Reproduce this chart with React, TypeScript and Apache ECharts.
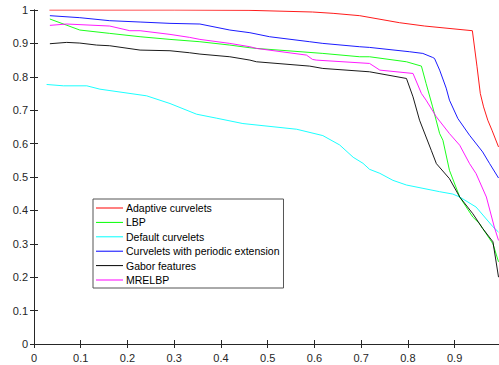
import React, { useEffect, useRef } from "react";
import * as echarts from "echarts";

const seriesNames = [
  "Adaptive curvelets",
  "LBP",
  "Default curvelets",
  "Curvelets with periodic extension",
  "Gabor features",
  "MRELBP",
];
const seriesColors = ["#ff0000", "#00ff00", "#00ffff", "#0000ff", "#000000", "#ff00ff"];

const xTicks = [0, 0.1, 0.2, 0.3, 0.4, 0.5, 0.6, 0.7, 0.8, 0.9];
const yTicks = [0, 0.1, 0.2, 0.3, 0.4, 0.5, 0.6, 0.7, 0.8, 0.9, 1];

const adaptiveX = [0.033, 0.3, 0.46, 0.596, 0.64, 0.697, 0.782, 0.836, 0.938, 0.948, 0.955, 0.962, 0.971, 0.98, 0.994];
const adaptiveY = [1.0, 1.0, 0.999, 0.994, 0.99, 0.983, 0.962, 0.952, 0.938, 0.83, 0.75, 0.71, 0.67, 0.64, 0.59];

const lbpX = [0.034, 0.098, 0.162, 0.227, 0.291, 0.355, 0.419, 0.462, 0.476, 0.618, 0.697, 0.718, 0.797, 0.829, 0.839, 0.853, 0.868, 0.875, 0.889, 0.911, 0.939, 0.953, 0.96, 0.982, 0.994];
const lbpY = [0.973, 0.94, 0.93, 0.92, 0.912, 0.905, 0.895, 0.887, 0.885, 0.87, 0.86, 0.86, 0.845, 0.832, 0.78, 0.71, 0.63, 0.61, 0.52, 0.44, 0.38, 0.361, 0.346, 0.3, 0.246];

const defaultX = [0.027, 0.063, 0.113, 0.141, 0.241, 0.291, 0.348, 0.391, 0.447, 0.562, 0.618, 0.654, 0.683, 0.704, 0.718, 0.74, 0.768, 0.797, 0.868, 0.896, 0.911, 0.946, 0.982, 0.994];
const defaultY = [0.777, 0.773, 0.773, 0.763, 0.743, 0.72, 0.688, 0.676, 0.66, 0.643, 0.624, 0.596, 0.559, 0.541, 0.523, 0.511, 0.49, 0.476, 0.456, 0.449, 0.44, 0.41, 0.351, 0.335];

const periodicX = [0.034, 0.098, 0.162, 0.227, 0.291, 0.355, 0.419, 0.462, 0.504, 0.59, 0.618, 0.697, 0.718, 0.804, 0.832, 0.853, 0.857, 0.868, 0.882, 0.889, 0.907, 0.932, 0.96, 0.975, 0.994];
const periodicY = [0.983, 0.977, 0.968, 0.964, 0.96, 0.958, 0.94, 0.932, 0.92, 0.905, 0.9, 0.89, 0.888, 0.875, 0.87, 0.858, 0.855, 0.82, 0.766, 0.73, 0.675, 0.625, 0.575, 0.54, 0.497];

const gaborX = [0.034, 0.07, 0.098, 0.134, 0.162, 0.227, 0.291, 0.333, 0.355, 0.419, 0.462, 0.476, 0.59, 0.618, 0.718, 0.797, 0.811, 0.825, 0.85, 0.861, 0.889, 0.911, 0.939, 0.96, 0.982, 0.994];
const gaborY = [0.899, 0.903, 0.901, 0.895, 0.893, 0.88, 0.878, 0.872, 0.868, 0.86, 0.85, 0.845, 0.832, 0.825, 0.815, 0.795, 0.74, 0.67, 0.58, 0.54, 0.495, 0.44, 0.39, 0.346, 0.306, 0.2];

const mrelbpX = [0.034, 0.07, 0.162, 0.205, 0.227, 0.291, 0.333, 0.355, 0.419, 0.462, 0.476, 0.583, 0.596, 0.604, 0.718, 0.74, 0.811, 0.829, 0.839, 0.861, 0.889, 0.911, 0.932, 0.946, 0.968, 0.985, 0.994];
const mrelbpY = [0.954, 0.958, 0.952, 0.938, 0.938, 0.927, 0.918, 0.912, 0.9, 0.89, 0.885, 0.865, 0.852, 0.85, 0.84, 0.82, 0.81, 0.75, 0.73, 0.68, 0.63, 0.595, 0.54, 0.51, 0.44, 0.35, 0.31];

const allX = [adaptiveX, lbpX, defaultX, periodicX, gaborX, mrelbpX];
const allY = [adaptiveY, lbpY, defaultY, periodicY, gaborY, mrelbpY];

const FONT = "'Liberation Sans', Arial, Helvetica, sans-serif";
const AXIS_COLOR = "#262626";

export default function App() {
  const ref = useRef<HTMLDivElement>(null);
  useEffect(() => {
    if (!ref.current) return;
    const chart = echarts.init(ref.current, undefined, { renderer: "svg" });
    const tickStyle = { show: true, inside: true, length: 4, lineStyle: { color: AXIS_COLOR, width: 1 } };
    const lineStyle = { show: true, lineStyle: { color: AXIS_COLOR, width: 1 } };
    chart.setOption({
      animation: false,
      backgroundColor: "#ffffff",
      textStyle: { fontFamily: FONT },
      grid: { left: 34, right: 0, top: 10, bottom: 21, containLabel: false },
      legend: {
        show: true,
        orient: "vertical",
        left: 93,
        top: 199,
        data: seriesNames,
        icon: "rect",
        itemWidth: 27,
        itemHeight: 1,
        itemGap: 2.4,
        padding: [3, 4, 2, 3],
        borderColor: "#555555",
        borderWidth: 1,
        backgroundColor: "#ffffff",
        textStyle: { fontFamily: FONT, fontSize: 10.5, color: "#000000", lineHeight: 12, padding: [0, 0, 0, -2] },
        selectedMode: false,
      },
      xAxis: [
        {
          type: "value",
          min: 0,
          max: 0.995,
          interval: 0.1,
          position: "bottom",
          axisLine: lineStyle,
          axisTick: { ...tickStyle, customValues: xTicks },
          axisLabel: { customValues: xTicks, color: AXIS_COLOR, fontSize: 11, fontFamily: FONT, margin: 8 },
          splitLine: { show: false },
        },
        {
          type: "value",
          min: 0,
          max: 0.995,
          interval: 0.1,
          position: "top",
          axisLine: lineStyle,
          axisTick: { ...tickStyle, customValues: xTicks },
          axisLabel: { show: false },
          splitLine: { show: false },
        },
      ],
      yAxis: [
        {
          type: "value",
          min: 0,
          max: 1,
          interval: 0.1,
          position: "left",
          axisLine: lineStyle,
          axisTick: { ...tickStyle, customValues: yTicks },
          axisLabel: { customValues: yTicks, color: AXIS_COLOR, fontSize: 11, fontFamily: FONT, margin: 6 },
          splitLine: { show: false },
        },
        {
          type: "value",
          min: 0,
          max: 1,
          interval: 0.1,
          position: "right",
          axisLine: lineStyle,
          axisTick: { ...tickStyle, customValues: yTicks },
          axisLabel: { show: false },
          splitLine: { show: false },
        },
      ],
      series: seriesNames.map((name, i) => ({
        name,
        type: "line",
        xAxisIndex: 0,
        yAxisIndex: 0,
        showSymbol: false,
        symbol: "none",
        color: seriesColors[i],
        lineStyle: { color: seriesColors[i], width: 0.9 },
        data: allX[i].map((x, j) => [x, allY[i][j]]),
      })),
    });
    return () => chart.dispose();
  }, []);
  return (
    <div
      ref={ref}
      style={{ position: "fixed", left: 0, top: 0, width: 499, height: 365, background: "#fff" }}
    />
  );
}
